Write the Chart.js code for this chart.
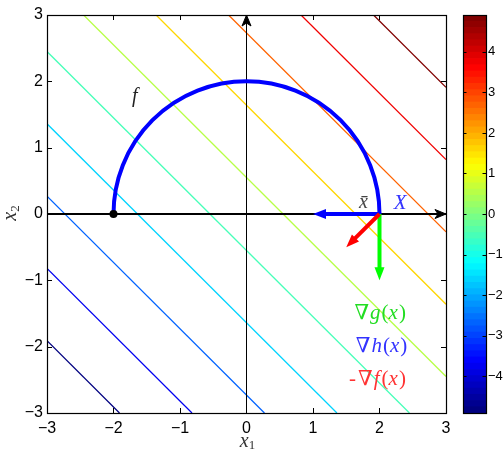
<!DOCTYPE html>
<html><head><meta charset="utf-8">
<script src="https://cdn.jsdelivr.net/npm/chart.js@4"></script>
<style>
html,body{margin:0;padding:0;background:#fff;}
#wrap{position:relative;width:503px;height:449px;overflow:hidden;}
#main{position:absolute;left:0;top:0;}
#cbar{position:absolute;left:455px;top:0;}
</style></head><body>
<div id="wrap">
<canvas id="main" width="503" height="449"></canvas>
<canvas id="cbar" width="48" height="449"></canvas>
</div>
<script>
// ---------- data ----------
const xTicks = [-3, -2, -1, 0, 1, 2, 3];
const yTicks = [-3, -2, -1, 0, 1, 2, 3];
const contourLevels = [-4.91, -3.82, -2.73, -1.64, -0.55, 0.55, 1.64, 2.73, 3.82, 4.91];
const colorbarTicks = [-4, -3, -2, -1, 0, 1, 2, 3, 4];
const colorLimits = [-4.91, 4.91];
const colorbarBands = 64;
const plotRange = [-3, 3];
const axisXLine = [{x: -3, y: 0}, {x: 3, y: 0}];
const axisYLine = [{x: 0, y: -3}, {x: 0, y: 3}];
const circleCenter = {x: 0, y: 0};
const circleRadius = 2;
const startPoint = [{x: -2, y: 0}];
const arrowOrigin = {x: 2, y: 0};
const gradHEnd = {x: 1, y: 0};
const gradGEnd = {x: 2, y: -1};
const negGradFEnd = {x: 1.5, y: -0.5};

// ---------- helpers ----------
function clamp(v){ return Math.max(0, Math.min(1, v)); }
function jet(t){
  const r = clamp(Math.min(4*t - 1.5, -4*t + 4.5));
  const g = clamp(Math.min(4*t - 0.5, -4*t + 3.5));
  const b = clamp(Math.min(4*t + 0.5, -4*t + 2.5));
  return `rgb(${Math.round(r*255)},${Math.round(g*255)},${Math.round(b*255)})`;
}
function levelColor(c){
  const t = (c - colorLimits[0]) / (colorLimits[1] - colorLimits[0]);
  const idx = Math.round(t * (colorbarBands - 1));
  return jet(idx / (colorbarBands - 1));
}
// clip the line x1 + x2 = c to the square plot range
function clipLevel(c){
  const lo = plotRange[0], hi = plotRange[1];
  if (c >= 0) return [{x: c - hi, y: hi}, {x: hi, y: c - hi}];
  return [{x: lo, y: c - lo}, {x: c - lo, y: lo}];
}
const fmt = v => (v < 0 ? '\u2212' + Math.abs(v) : String(v));

// ---------- main chart ----------
const datasets = [];
contourLevels.forEach(c => datasets.push({
  label: 'level ' + c, data: clipLevel(c), showLine: true, borderColor: levelColor(c),
  borderWidth: 1.3, pointRadius: 0, order: 3, fill: false
}));
datasets.push({label: 'x-axis', data: axisXLine, showLine: true, borderColor: '#000', borderWidth: 2, pointRadius: 0, order: 2});
datasets.push({label: 'y-axis', data: axisYLine, showLine: true, borderColor: '#000', borderWidth: 1, pointRadius: 0, order: 2});
datasets.push({label: 'gradH', data: [arrowOrigin, gradHEnd], showLine: false, pointRadius: 0, order: 1, arrowColor: '#0000ff'});
datasets.push({label: 'gradG', data: [arrowOrigin, gradGEnd], showLine: false, pointRadius: 0, order: 1, arrowColor: '#00ff00'});
datasets.push({label: 'negGradF', data: [arrowOrigin, negGradFEnd], showLine: false, pointRadius: 0, order: 1, arrowColor: '#ff0000'});
datasets.push({label: 'start', data: startPoint, showLine: false, pointRadius: 4, pointBackgroundColor: '#000', pointBorderWidth: 0, order: 0});

function drawArrow(ctx, x0, y0, x1, y1, color, w, len, half){
  const dx = x1 - x0, dy = y1 - y0, L = Math.hypot(dx, dy);
  const ux = dx / L, uy = dy / L, px = -uy, py = ux;
  const bx = x1 - ux * len, by = y1 - uy * len;
  ctx.save();
  ctx.strokeStyle = color; ctx.fillStyle = color; ctx.lineWidth = w; ctx.lineCap = 'butt';
  ctx.beginPath(); ctx.moveTo(x0, y0); ctx.lineTo(bx + ux, by + uy); ctx.stroke();
  ctx.beginPath(); ctx.moveTo(x1, y1); ctx.lineTo(bx + px*half, by + py*half); ctx.lineTo(bx - px*half, by - py*half); ctx.closePath(); ctx.fill();
  ctx.restore();
}
function drawStealth(ctx, tx, ty, ux, uy){
  const px = -uy, py = ux, len = 11, half = 4.5, notch = 8;
  ctx.save(); ctx.fillStyle = '#000'; ctx.strokeStyle = '#000'; ctx.lineWidth = 1;
  ctx.beginPath();
  ctx.moveTo(tx, ty);
  ctx.lineTo(tx - ux*len + px*half, ty - uy*len + py*half);
  ctx.lineTo(tx - ux*notch, ty - uy*notch);
  ctx.lineTo(tx - ux*len - px*half, ty - uy*len - py*half);
  ctx.closePath(); ctx.fill(); ctx.stroke();
  ctx.restore();
}
function drawRuns(ctx, runs, cx, baseY, color, size){
  let total = 0;
  runs.forEach(r => { ctx.font = `${r.i ? 'italic ' : ''}${r.s || size}px "Liberation Serif", "DejaVu Serif", serif`; r.w = ctx.measureText(r.t).width + (r.gap || 0); total += r.w; });
  let xx = cx - total / 2;
  ctx.textAlign = 'left'; ctx.textBaseline = 'alphabetic'; ctx.fillStyle = color;
  runs.forEach(r => { ctx.font = `${r.i ? 'italic ' : ''}${r.s || size}px "Liberation Serif", "DejaVu Serif", serif`; ctx.fillText(r.t, xx, baseY + (r.dy || 0)); xx += r.w; });
}

const mainDeco = {
  id: 'mainDeco',
  beforeDatasetDraw(chart, args){
    const ds = chart.data.datasets[args.index];
    if (ds.label !== 'start') return;
    const {ctx, scales: {x, y}} = chart;
    // constraint semicircle
    const cx = x.getPixelForValue(circleCenter.x), cy = y.getPixelForValue(circleCenter.y);
    const rx = x.getPixelForValue(circleCenter.x + circleRadius) - cx;
    const ry = cy - y.getPixelForValue(circleCenter.y + circleRadius);
    ctx.save(); ctx.beginPath(); ctx.ellipse(cx, cy, rx, ry, 0, Math.PI, 2*Math.PI);
    ctx.strokeStyle = '#0000ff'; ctx.lineWidth = 4; ctx.stroke(); ctx.restore();
    // axis arrowheads
    const ax = chart.data.datasets.find(d => d.label === 'x-axis').data;
    const ay = chart.data.datasets.find(d => d.label === 'y-axis').data;
    drawStealth(ctx, x.getPixelForValue(ax[1].x), y.getPixelForValue(ax[1].y), 1, 0);
    drawStealth(ctx, x.getPixelForValue(ay[1].x), y.getPixelForValue(ay[1].y), 0, -1);
    // gradient arrows
    chart.data.datasets.filter(d => d.arrowColor).forEach(d => {
      drawArrow(ctx, x.getPixelForValue(d.data[0].x), y.getPixelForValue(d.data[0].y),
        x.getPixelForValue(d.data[1].x), y.getPixelForValue(d.data[1].y), d.arrowColor, 4, 13, 5);
    });
  },
  afterDraw(chart){
    const {ctx, chartArea: a, scales: {x, y}} = chart;
    ctx.save();
    // box
    ctx.strokeStyle = '#000'; ctx.lineWidth = 1.2;
    ctx.strokeRect(Math.round(a.left) + 0.5, Math.round(a.top) + 0.5, Math.round(a.right - a.left), Math.round(a.bottom - a.top));
    // inward ticks on all sides
    ctx.lineWidth = 1;
    ctx.beginPath();
    xTicks.forEach(v => { const p = Math.floor(x.getPixelForValue(v)) + 0.5;
      ctx.moveTo(p, a.bottom); ctx.lineTo(p, a.bottom - 5); ctx.moveTo(p, a.top); ctx.lineTo(p, a.top + 5); });
    yTicks.forEach(v => { const p = Math.round(y.getPixelForValue(v)) + 0.5;
      ctx.moveTo(a.left, p); ctx.lineTo(a.left + 5, p); ctx.moveTo(a.right, p); ctx.lineTo(a.right - 5, p); });
    ctx.stroke();
    // annotations
    const X = v => x.getPixelForValue(v), Y = v => y.getPixelForValue(v);
    drawRuns(ctx, [{t: 'f', i: true}], X(-1.68), Y(1.69), '#222', 20);
    drawRuns(ctx, [{t: 'x\u0304', i: true}], X(1.76), Y(0.09), '#444', 20);
    drawRuns(ctx, [{t: 'X', i: true}], X(2.31), Y(0.08), '#3333ff', 21);
    drawRuns(ctx, [{t: '\u2207', gap: 1}, {t: 'g', i: true, gap: 1}, {t: '('}, {t: 'x', i: true, gap: 1}, {t: ')'}], X(2.01), Y(-1.58), '#22dd22', 21);
    drawRuns(ctx, [{t: '\u2207', gap: 1}, {t: 'h', i: true, gap: 1}, {t: '('}, {t: 'x', i: true, gap: 1}, {t: ')'}], X(2.03), Y(-2.08), '#3333ff', 21);
    drawRuns(ctx, [{t: '-', gap: 2}, {t: '\u2207', gap: 1}, {t: 'f', i: true, gap: 2}, {t: '('}, {t: 'x', i: true, gap: 1}, {t: ')'}], X(1.97), Y(-2.58), '#ff3333', 21);
    // axis titles
    drawRuns(ctx, [{t: 'x', i: true}, {t: '1', s: 13, dy: 2.5}], X(0) + 1, 446.5, '#333', 20);
    ctx.translate(16, 213); ctx.rotate(-Math.PI / 2);
    drawRuns(ctx, [{t: 'x', i: true}, {t: '2', s: 13, dy: 2.5}], 0, 0, '#333', 20);
    ctx.restore();
  }
};

new Chart(document.getElementById('main'), {
  type: 'scatter',
  data: {datasets},
  options: {
    responsive: false, animation: false,
    layout: {padding: {left: 0, top: 15, right: 57, bottom: 0}},
    plugins: {legend: {display: false}, tooltip: {enabled: false}},
    elements: {line: {tension: 0}},
    scales: {
      x: {type: 'linear', min: plotRange[0], max: plotRange[1],
        afterBuildTicks: s => { s.ticks = xTicks.map(v => ({value: v})); },
        afterFit: s => { s.height = 36; },
        grid: {display: false, drawTicks: false}, border: {display: false},
        ticks: {padding: 6, color: '#000', font: {size: 16, family: '"Liberation Sans", Arial, sans-serif'}, callback: v => fmt(v), maxRotation: 0}},
      y: {type: 'linear', min: plotRange[0], max: plotRange[1],
        afterBuildTicks: s => { s.ticks = yTicks.map(v => ({value: v})); },
        afterFit: s => { s.width = 47; },
        grid: {display: false, drawTicks: false}, border: {display: false},
        ticks: {padding: 4, color: '#000', font: {size: 16, family: '"Liberation Sans", Arial, sans-serif'}, callback: v => fmt(v)}}
    }
  },
  plugins: [mainDeco]
});

// ---------- colorbar ----------
const bandStep = (colorLimits[1] - colorLimits[0]) / colorbarBands;
const cbDatasets = [];
for (let k = 0; k < colorbarBands; k++) {
  cbDatasets.push({data: [[colorLimits[0] + k*bandStep, colorLimits[0] + (k+1)*bandStep]],
    backgroundColor: jet(k / (colorbarBands - 1)), borderWidth: 0, grouped: false,
    barPercentage: 1, categoryPercentage: 1, inflateAmount: 0.4});
}
const cbDeco = {
  id: 'cbDeco',
  afterDraw(chart){
    const {ctx, chartArea: a, scales: {y}} = chart;
    ctx.save(); ctx.strokeStyle = '#000'; ctx.lineWidth = 1.2;
    ctx.strokeRect(Math.round(a.left) + 0.5, Math.round(a.top) + 0.5, Math.round(a.right - a.left), Math.round(a.bottom - a.top));
    ctx.lineWidth = 1; ctx.beginPath();
    colorbarTicks.forEach(v => { const p = Math.round(y.getPixelForValue(v)) + 0.5;
      ctx.moveTo(a.left, p); ctx.lineTo(a.left + 3.5, p); ctx.moveTo(a.right, p); ctx.lineTo(a.right - 3.5, p); });
    ctx.stroke(); ctx.restore();
  }
};
new Chart(document.getElementById('cbar'), {
  type: 'bar',
  data: {labels: ['c'], datasets: cbDatasets},
  options: {
    responsive: false, animation: false,
    layout: {padding: {left: 8, top: 15, right: 0, bottom: 36}},
    plugins: {legend: {display: false}, tooltip: {enabled: false}},
    scales: {
      x: {display: false},
      y: {position: 'right', min: colorLimits[0], max: colorLimits[1],
        afterBuildTicks: s => { s.ticks = colorbarTicks.map(v => ({value: v})); },
        afterFit: s => { s.width = 17; },
        grid: {display: false, drawTicks: false}, border: {display: false},
        ticks: {padding: 2, color: '#000', font: {size: 13, family: '"Liberation Sans", Arial, sans-serif'}, callback: v => fmt(v)}}
    }
  },
  plugins: [cbDeco]
});
</script>
</body></html>
